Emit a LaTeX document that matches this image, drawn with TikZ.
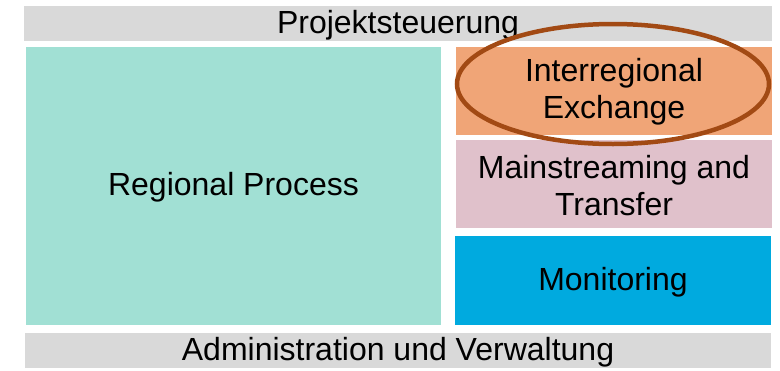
\documentclass[tikz,border=0pt]{standalone}
\usepackage{fontspec}
\setmainfont{Liberation Sans}
\definecolor{barGray}{HTML}{D9D9D9}
\definecolor{tealC}{HTML}{A1E0D4}
\definecolor{orangeC}{HTML}{F0A577}
\definecolor{pinkC}{HTML}{E0C1CB}
\definecolor{blueC}{HTML}{00AADF}
\definecolor{ringC}{HTML}{A24A14}
\begin{document}
\begin{tikzpicture}[x=1pt,y=-1pt,
  lbl/.style={font=\fontsize{32}{37}\selectfont,align=center,text=black,inner sep=0pt}]
\useasboundingbox[fill=white] (0,0) rectangle (780,370);
% boxes
\fill[barGray] (24,6) rectangle (772,41);
\node[lbl] (ps) at (398,25) {Projektsteuerung};
\fill[tealC] (26,47) rectangle (441,325);
\node[lbl] (rp) at (233.5,187) {Regional Process};
\fill[orangeC] (456,47) rectangle (772,135);
\node[lbl] (ie) at (614,92) {Interregional\\Exchange};
\fill[pinkC] (456,140) rectangle (772,228);
\node[lbl] (mt) at (614,186) {Mainstreaming and\\Transfer};
\fill[blueC] (455,236) rectangle (771,325);
\node[lbl] (mo) at (613,282) {Monitoring};
\fill[barGray] (25,333) rectangle (771,368);
\node[lbl] (av) at (398,352) {Administration und Verwaltung};
% ring
\draw[ringC,line width=4.5pt] (613,84) ellipse [x radius=156, y radius=60];
\end{tikzpicture}
\end{document}
